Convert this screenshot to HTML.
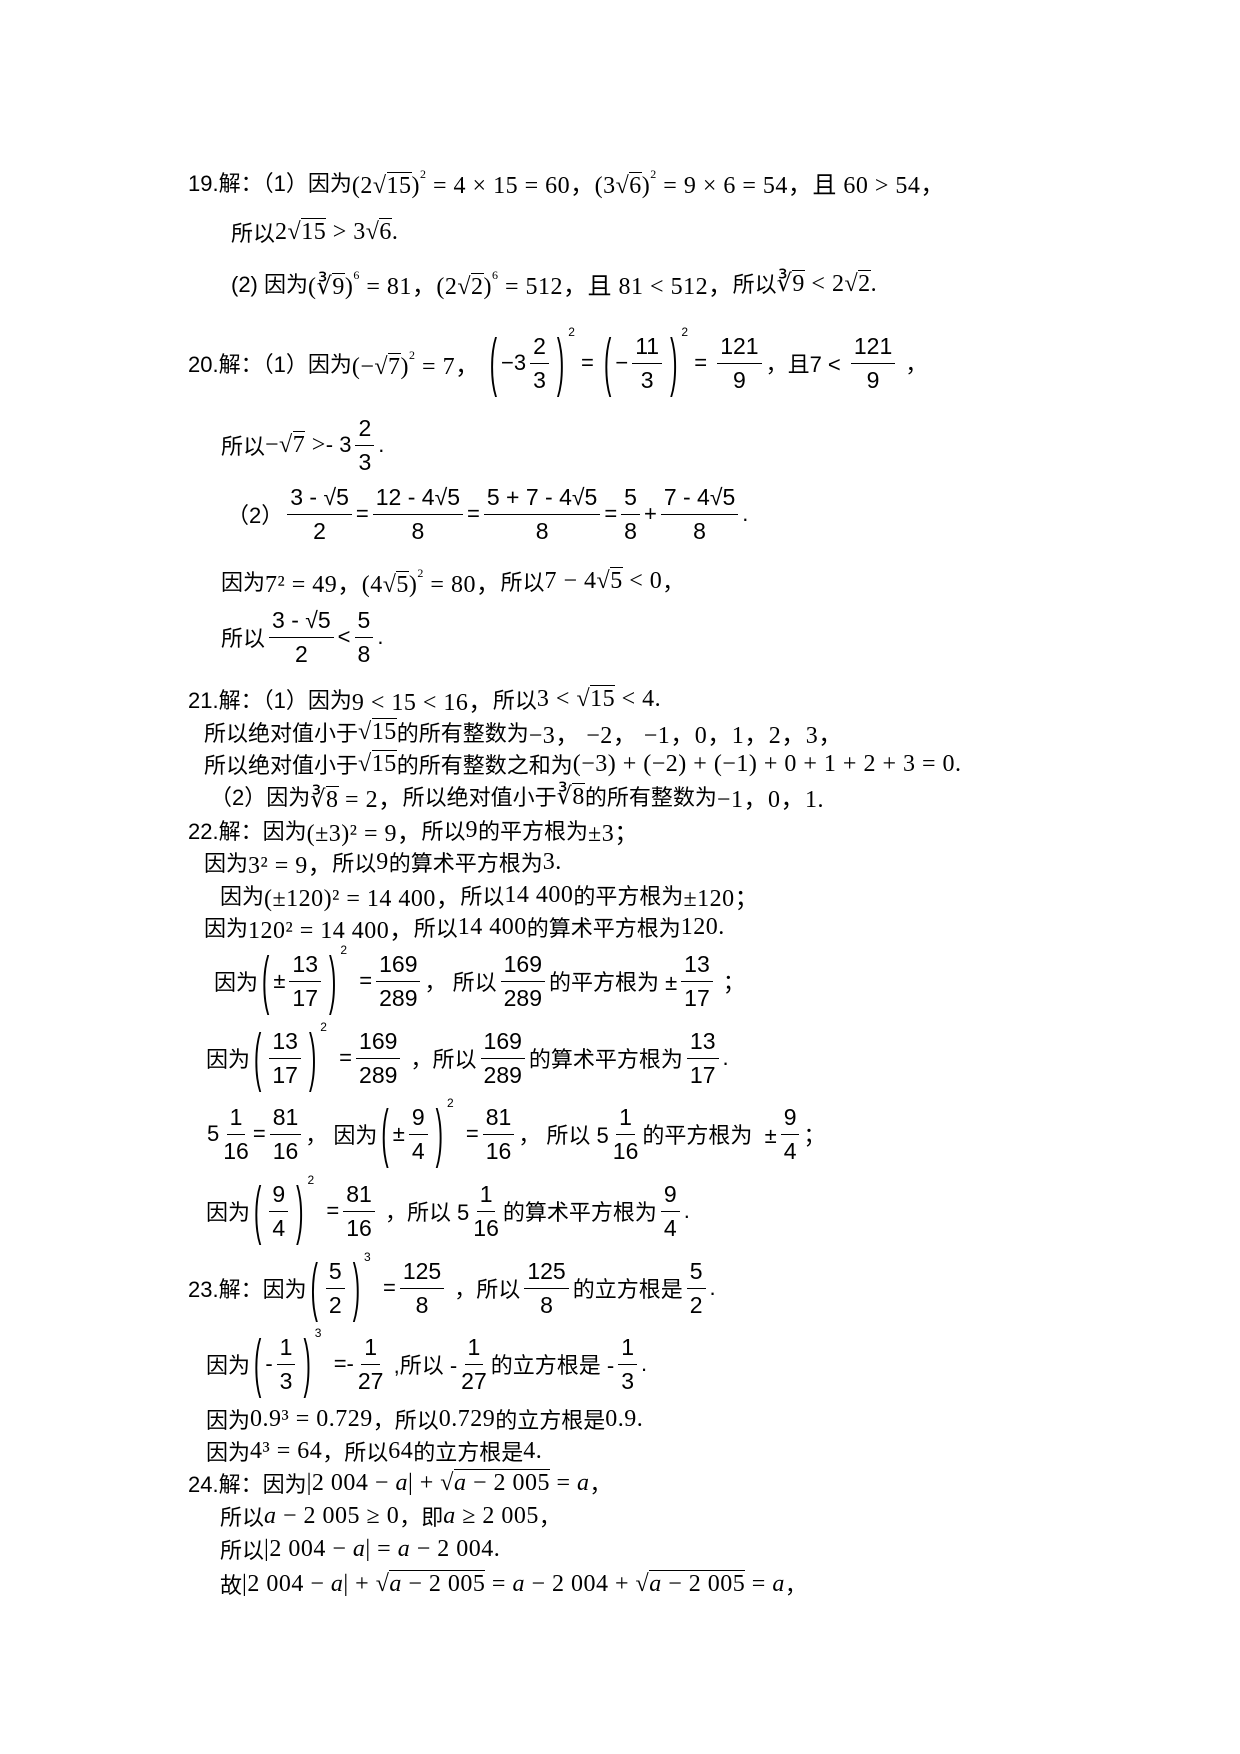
<!DOCTYPE html>
<html><head><meta charset="utf-8">
<style>
body{margin:0;background:#fff;}
#p{position:relative;width:1240px;height:1754px;overflow:hidden;font-family:"Liberation Sans","Noto Sans CJK SC",sans-serif;font-size:22px;color:#000;}
.l{position:absolute;height:80px;display:flex;align-items:center;white-space:nowrap;}
.m{font-family:"Liberation Serif","Noto Sans CJK SC",serif;font-size:24px;letter-spacing:0.5px;}
.fr{display:inline-flex;flex-direction:column;align-items:center;vertical-align:middle;margin:0 4px;font-size:23px;line-height:33px;}
.fr>span:first-child{border-bottom:1.5px solid #000;padding:0 3px;}
.bp{display:inline-block;transform:scaleY(2.9);font-weight:100;font-size:22px;margin:0 4px;}
sup{font-size:12px;position:relative;top:-6px;}
.sq{border-top:1px solid #000;}
</style></head><body><div id="p">

<div class="l" style="left:188px;top:142px">19.解：（1）因为<span class="m">(2√<span class="sq">15</span>)<sup>2</sup> = 4 × 15 = 60，(3√<span class="sq">6</span>)<sup>2</sup> = 9 × 6 = 54，且 60 &gt; 54，</span></div>
<div class="l" style="left:231px;top:192px">所以<span class="m">2√<span class="sq">15</span> &gt; 3√<span class="sq">6</span>.</span></div>
<div class="l" style="left:231px;top:243px">(2) 因为<span class="m">(∛<span class="sq">9</span>)<sup>6</sup> = 81，(2√<span class="sq">2</span>)<sup>6</sup> = 512，且 81 &lt; 512，</span>所以<span class="m">∛<span class="sq">9</span> &lt; 2√<span class="sq">2</span>.</span></div>

<div class="l" style="left:188px;top:323px">20.解：（1）因为<span class="m">(−√<span class="sq">7</span>)<sup>2</sup> = 7，</span>&nbsp;<span class="bp">(</span>−3<span class="fr"><span>2</span><span>3</span></span><span class="bp">)</span><sup style="align-self:flex-start;margin-top:8px">2</sup>&nbsp;=&nbsp;<span class="bp">(</span>−<span class="fr"><span>11</span><span>3</span></span><span class="bp">)</span><sup style="align-self:flex-start;margin-top:8px">2</sup>&nbsp;=&nbsp;<span class="fr"><span>121</span><span>9</span></span>，且7 &lt;&nbsp;<span class="fr"><span>121</span><span>9</span></span>&nbsp;，</div>
<div class="l" style="left:221px;top:405px">所以<span class="m">−√<span class="sq">7</span> &gt;</span> - 3<span class="fr"><span>2</span><span>3</span></span>.</div>
<div class="l" style="left:227px;top:474px">（2）<span class="fr"><span>3 - √5</span><span>2</span></span>=<span class="fr"><span>12 - 4√5</span><span>8</span></span>=<span class="fr"><span>5 + 7 - 4√5</span><span>8</span></span>=<span class="fr"><span>5</span><span>8</span></span>+<span class="fr"><span>7 - 4√5</span><span>8</span></span>.</div>
<div class="l" style="left:221px;top:541px">因为<span class="m">7² = 49，(4√<span class="sq">5</span>)<sup>2</sup> = 80，</span>所以<span class="m">7 − 4√<span class="sq">5</span> &lt; 0</span>，</div>
<div class="l" style="left:221px;top:597px">所以<span class="fr"><span>3 - √5</span><span>2</span></span>&lt;<span class="fr"><span>5</span><span>8</span></span>.</div>

<div class="l" style="left:188px;top:659px">21.解：（1）因为<span class="m">9 &lt; 15 &lt; 16，</span>所以<span class="m">3 &lt; √<span class="sq">15</span> &lt; 4.</span></div>
<div class="l" style="left:204px;top:692px">所以绝对值小于<span class="m">√<span class="sq">15</span></span>的所有整数为<span class="m">−3，&nbsp;−2，&nbsp;−1，0，1，2，3，</span></div>
<div class="l" style="left:204px;top:724px">所以绝对值小于<span class="m">√<span class="sq">15</span></span>的所有整数之和为<span class="m">(−3) + (−2) + (−1) + 0 + 1 + 2 + 3 = 0.</span></div>
<div class="l" style="left:210px;top:756px">（2）因为<span class="m">∛<span class="sq">8</span> = 2，</span>所以绝对值小于<span class="m">∛<span class="sq">8</span></span>的所有整数为<span class="m">−1，0，1.</span></div>
<div class="l" style="left:188px;top:790px">22.解：因为<span class="m">(±3)² = 9，</span>所以<span class="m">9</span> 的平方根为<span class="m">±3；</span></div>
<div class="l" style="left:204px;top:822px">因为<span class="m">3² = 9，</span>所以<span class="m">9</span>的算术平方根为<span class="m">3.</span></div>
<div class="l" style="left:220px;top:855px">因为<span class="m">(±120)² = 14 400，</span>所以<span class="m">14 400</span> 的平方根为<span class="m">±120；</span></div>
<div class="l" style="left:204px;top:887px">因为<span class="m">120² = 14 400，</span>所以<span class="m">14 400</span>的算术平方根为<span class="m">120.</span></div>

<div class="l" style="left:214px;top:941px">因为<span class="bp">(</span>±<span class="fr"><span>13</span><span>17</span></span><span class="bp">)</span><sup style="align-self:flex-start;margin-top:8px">2</sup>&nbsp;&nbsp;=<span class="fr"><span>169</span><span>289</span></span>，&nbsp;所以<span class="fr"><span>169</span><span>289</span></span>的平方根为 ±<span class="fr"><span>13</span><span>17</span></span>&nbsp;；</div>
<div class="l" style="left:206px;top:1018px">因为<span class="bp">(</span><span class="fr"><span>13</span><span>17</span></span><span class="bp">)</span><sup style="align-self:flex-start;margin-top:8px">2</sup>&nbsp;&nbsp;=<span class="fr"><span>169</span><span>289</span></span>&nbsp;，所以<span class="fr"><span>169</span><span>289</span></span>的算术平方根为<span class="fr"><span>13</span><span>17</span></span>.</div>
<div class="l" style="left:207px;top:1094px">5<span class="fr"><span>1</span><span>16</span></span>=<span class="fr"><span>81</span><span>16</span></span>， 因为<span class="bp">(</span>±<span class="fr"><span>9</span><span>4</span></span><span class="bp">)</span><sup style="align-self:flex-start;margin-top:8px">2</sup>&nbsp;&nbsp;=<span class="fr"><span>81</span><span>16</span></span>，&nbsp;所以 5<span class="fr"><span>1</span><span>16</span></span>的平方根为&nbsp; ±<span class="fr"><span>9</span><span>4</span></span>；</div>
<div class="l" style="left:206px;top:1171px">因为<span class="bp">(</span><span class="fr"><span>9</span><span>4</span></span><span class="bp">)</span><sup style="align-self:flex-start;margin-top:8px">2</sup>&nbsp;&nbsp;=<span class="fr"><span>81</span><span>16</span></span>&nbsp;，所以 5<span class="fr"><span>1</span><span>16</span></span>的算术平方根为<span class="fr"><span>9</span><span>4</span></span>.</div>

<div class="l" style="left:188px;top:1248px">23.解：因为<span class="bp">(</span><span class="fr"><span>5</span><span>2</span></span><span class="bp">)</span><sup style="align-self:flex-start;margin-top:8px">3</sup>&nbsp;&nbsp;=<span class="fr"><span>125</span><span>8</span></span>&nbsp;，所以<span class="fr"><span>125</span><span>8</span></span>的立方根是<span class="fr"><span>5</span><span>2</span></span>.</div>
<div class="l" style="left:206px;top:1324px">因为<span class="bp">(</span>-<span class="fr"><span>1</span><span>3</span></span><span class="bp">)</span><sup style="align-self:flex-start;margin-top:8px">3</sup>&nbsp;&nbsp;=-<span class="fr"><span>1</span><span>27</span></span>&nbsp;,所以 -<span class="fr"><span>1</span><span>27</span></span>的立方根是 -<span class="fr"><span>1</span><span>3</span></span>.</div>
<div class="l" style="left:206px;top:1379px">因为<span class="m">0.9³ = 0.729</span>，所以<span class="m">0.729</span>的立方根是<span class="m">0.9.</span></div>
<div class="l" style="left:206px;top:1411px">因为<span class="m">4³ = 64</span>，所以<span class="m">64</span>的立方根是<span class="m">4.</span></div>
<div class="l" style="left:188px;top:1443px">24.解：因为<span class="m">|2 004 − <i>a</i>| + √<span class="sq"><i>a</i> − 2 005</span> = <i>a</i></span>，</div>
<div class="l" style="left:220px;top:1476px">所以<span class="m"><i>a</i> − 2 005 ≥ 0</span>，即<span class="m"><i>a</i> ≥ 2 005</span>，</div>
<div class="l" style="left:220px;top:1509px">所以<span class="m">|2 004 − <i>a</i>| = <i>a</i> − 2 004.</span></div>
<div class="l" style="left:220px;top:1544px">故<span class="m">|2 004 − <i>a</i>| + √<span class="sq"><i>a</i> − 2 005</span> = <i>a</i> − 2 004 + √<span class="sq"><i>a</i> − 2 005</span> = <i>a</i></span>，</div>

</div></body></html>
